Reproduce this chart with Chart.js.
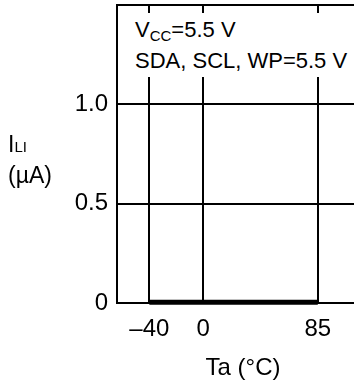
<!DOCTYPE html>
<html>
<head>
  <title>ILI vs Ta</title>
  <script src="https://cdn.jsdelivr.net/npm/chart.js"></script>
  <style>
    body { margin: 0; overflow: hidden; background: #fff; font-family: "Liberation Sans", Arial, sans-serif; }
    .wrap { position: relative; width: 372px; height: 383px; }
    .ylabel { position: absolute; left: 8px; top: 130px; font-size: 23px; line-height: 29px; color: #000; }
    .ylabel sub { font-size: 15px; vertical-align: baseline; }
    .note { position: absolute; left: 120px; top: 13px; width: 240px; height: 64px; background: #fff;
            font-size: 22px; line-height: 29px; padding: 2px 0 0 15px; box-sizing: border-box; color: #000; }
    .note sub { font-size: 15px; position: relative; top: 4px; vertical-align: baseline; }
  </style>
</head>
<body>
  <div class="wrap">
    <canvas id="chart" width="372" height="383"></canvas>
    <div class="note">V<sub>CC</sub>=5.5 V<br>SDA, SCL, WP=5.5 V</div>
    <div class="ylabel">I<sub>LI</sub><br>(&micro;A)</div>
  </div>
  <script>
    // data
    const temps = [-40, 0, 85];
    const ili = [0.004, 0.004, 0.004];
    const xTicks = [-40, 0, 85];
    const yTicks = [0, 0.5, 1.0, 1.5];

    const fontFamily = '"Liberation Sans", Arial, sans-serif';

    // top frame line of the plot box
    const topFrame = {
      id: 'topFrame',
      beforeDatasetsDraw(chart) {
        const a = chart.chartArea, ctx = chart.ctx;
        ctx.save();
        ctx.strokeStyle = '#000';
        ctx.lineWidth = 2;
        ctx.beginPath();
        ctx.moveTo(a.left - 1, a.top);
        ctx.lineTo(a.right + 1, a.top);
        ctx.stroke();
        ctx.restore();
      }
    };

    new Chart(document.getElementById('chart'), {
      type: 'line',
      data: {
        datasets: [{
          data: temps.map((t, i) => ({x: t, y: ili[i]})),
          borderColor: '#000',
          borderWidth: 5,
          pointRadius: 0,
          clip: 6
        }]
      },
      options: {
        responsive: false,
        animation: false,
        layout: { padding: { left: 0, right: 3, top: 5, bottom: 0 } },
        plugins: { legend: { display: false }, tooltip: { enabled: false } },
        scales: {
          x: {
            type: 'linear',
            min: -64,
            max: 123,
            afterBuildTicks: s => { s.ticks = xTicks.map(v => ({value: v})); },
            afterFit: s => { s.height = 80; s.paddingLeft = 0; s.paddingRight = 0; },
            grid: { color: '#000', lineWidth: 2, drawTicks: false },
            border: { color: '#000', width: 2 },
            ticks: {
              color: '#000', padding: 12, maxRotation: 0,
              font: { family: fontFamily, size: 24 },
              callback: v => v < 0 ? '\u2013' + Math.abs(v) : String(v)
            },
            title: {
              display: true, text: 'Ta (\u00b0C)', color: '#000',
              font: { family: fontFamily, size: 24 }, padding: { top: 4, bottom: 0 }
            }
          },
          y: {
            min: 0,
            max: 1.5,
            afterBuildTicks: s => { s.ticks = yTicks.map(v => ({value: v})); },
            afterFit: s => { s.width = 117; s.paddingTop = 0; s.paddingBottom = 0; },
            grid: { color: '#000', lineWidth: 2, drawTicks: false },
            border: { color: '#000', width: 2 },
            ticks: {
              color: '#000', padding: 9,
              font: { family: fontFamily, size: 24 },
              callback: v => v === 0 ? '0' : (v > 1.2 ? '' : v.toFixed(1))
            }
          }
        }
      },
      plugins: [topFrame]
    });
  </script>
</body>
</html>
